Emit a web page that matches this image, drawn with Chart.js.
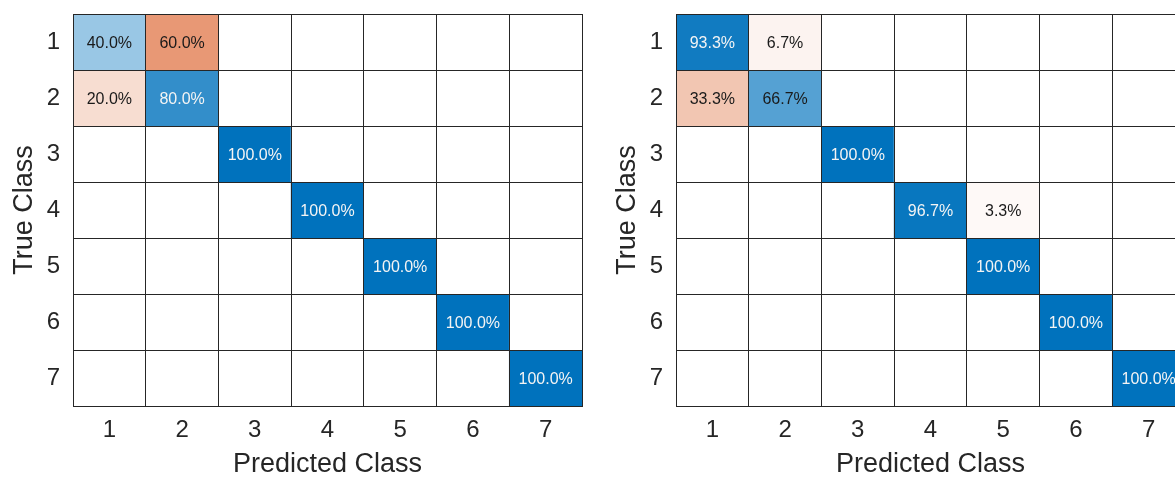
<!DOCTYPE html>
<html><head><meta charset="utf-8">
<script src="https://cdn.jsdelivr.net/npm/chart.js@4/dist/chart.umd.min.js"></script>
<style>
html,body{margin:0;padding:0;background:#fff;overflow:hidden;width:1175px;height:481px;}
#wrap{position:relative;width:1175px;height:481px;overflow:hidden;}
.box{position:absolute;top:0;width:600px;height:481px;}
canvas{display:block;}
</style></head><body>
<div id="wrap">
<div class="box" style="left:0"><canvas id="c1" width="600" height="481"></canvas></div>
<div class="box" style="left:603px"><canvas id="c2" width="600" height="481"></canvas></div>
</div>
<script>
// Class labels (ticks on both axes)
const classLabels = ['1','2','3','4','5','6','7'];
const xTitle = 'Predicted Class';
const yTitle = 'True Class';

// Left confusion matrix (row-normalised percentages), one array per true class
const leftRow1 = [40.0, 60.0, 0, 0, 0, 0, 0];
const leftRow2 = [20.0, 80.0, 0, 0, 0, 0, 0];
const leftRow3 = [0, 0, 100.0, 0, 0, 0, 0];
const leftRow4 = [0, 0, 0, 100.0, 0, 0, 0];
const leftRow5 = [0, 0, 0, 0, 100.0, 0, 0];
const leftRow6 = [0, 0, 0, 0, 0, 100.0, 0];
const leftRow7 = [0, 0, 0, 0, 0, 0, 100.0];

// Right confusion matrix
const rightRow1 = [93.3, 6.7, 0, 0, 0, 0, 0];
const rightRow2 = [33.3, 66.7, 0, 0, 0, 0, 0];
const rightRow3 = [0, 0, 100.0, 0, 0, 0, 0];
const rightRow4 = [0, 0, 0, 96.7, 3.3, 0, 0];
const rightRow5 = [0, 0, 0, 0, 100.0, 0, 0];
const rightRow6 = [0, 0, 0, 0, 0, 100.0, 0];
const rightRow7 = [0, 0, 0, 0, 0, 0, 100.0];

const leftMatrix = [leftRow1, leftRow2, leftRow3, leftRow4, leftRow5, leftRow6, leftRow7];
const rightMatrix = [rightRow1, rightRow2, rightRow3, rightRow4, rightRow5, rightRow6, rightRow7];

Chart.defaults.font.family = "'Liberation Sans', Arial, Helvetica, sans-serif";

const BLUE = [0, 114, 189];
const ORANGE = [217, 83, 25];
function cellColor(v, diag) {
  if (!v) return '#ffffff';
  const base = diag ? BLUE : ORANGE;
  const a = v / 100;
  const c = base.map(ch => Math.round(ch * a + 255 * (1 - a)));
  return `rgb(${c[0]},${c[1]},${c[2]})`;
}
function textColor(v, diag) {
  return (v / 100 > 0.7) ? '#f4f4f4' : '#1a1a1a';
}

const cellText = {
  id: 'cellText',
  afterDatasetsDraw(chart) {
    const ctx = chart.ctx;
    const mat = chart.config.options.plugins.cellText.matrix;
    ctx.save();
    ctx.font = "16px 'Liberation Sans', Arial, sans-serif";
    ctx.textAlign = 'center';
    ctx.textBaseline = 'middle';
    chart.data.datasets.forEach((ds, i) => {
      const meta = chart.getDatasetMeta(i);
      meta.data.forEach((el, j) => {
        const v = mat[i][j];
        if (!v) return;
        const cy = (el.y + el.base) / 2;
        ctx.fillStyle = textColor(v, i === j);
        ctx.fillText(v.toFixed(1) + '%', el.x, cy + 1.5);
      });
    });
    ctx.restore();
  }
};

function makeChart(id, matrix) {
  const datasets = matrix.map((row, i) => ({
    data: row.map(() => [i, i + 1]),
    backgroundColor: row.map((v, j) => cellColor(v, i === j)),
    borderWidth: 0,
    barPercentage: 1,
    categoryPercentage: 1,
    grouped: false
  }));
  return new Chart(document.getElementById(id), {
    type: 'bar',
    data: { labels: classLabels, datasets },
    plugins: [cellText],
    options: {
      responsive: false,
      animation: false,
      events: [],
      layout: { padding: { top: 14, right: 18, left: 0, bottom: 0 } },
      plugins: {
        legend: { display: false },
        tooltip: { enabled: false },
        cellText: { matrix }
      },
      scales: {
        x: {
          type: 'category',
          offset: true,
          grid: { offset: true, color: '#262626', lineWidth: 1, drawTicks: false, z: 1 },
          border: { display: true, color: '#262626', width: 1, z: 1 },
          ticks: { padding: 10, color: '#262626', font: { size: 24 }, maxRotation: 0 },
          title: { display: true, text: xTitle, color: '#262626', font: { size: 27 }, padding: { top: 0, bottom: 0 } },
          afterFit(s) { s.height = 75; s.paddingLeft = 0; s.paddingRight = 0; }
        },
        y: {
          type: 'linear',
          min: 0,
          max: 7,
          reverse: true,
          afterBuildTicks(s) { s.ticks = classLabels.map((_, i) => ({ value: i + 0.5 })); },
          grid: { offset: true, color: '#262626', lineWidth: 1, drawTicks: false, z: 1 },
          border: { display: true, color: '#262626', width: 1, z: 1 },
          ticks: { padding: 13, color: '#262626', font: { size: 24 }, callback: (v) => classLabels[Math.floor(v)] },
          title: { display: true, text: yTitle, color: '#262626', font: { size: 27 }, padding: { top: 8, bottom: 0 } },
          afterFit(s) { s.width = 73; s.paddingTop = 0; s.paddingBottom = 0; }
        }
      }
    }
  });
}

makeChart('c1', leftMatrix);
makeChart('c2', rightMatrix);
</script>
</body></html>
